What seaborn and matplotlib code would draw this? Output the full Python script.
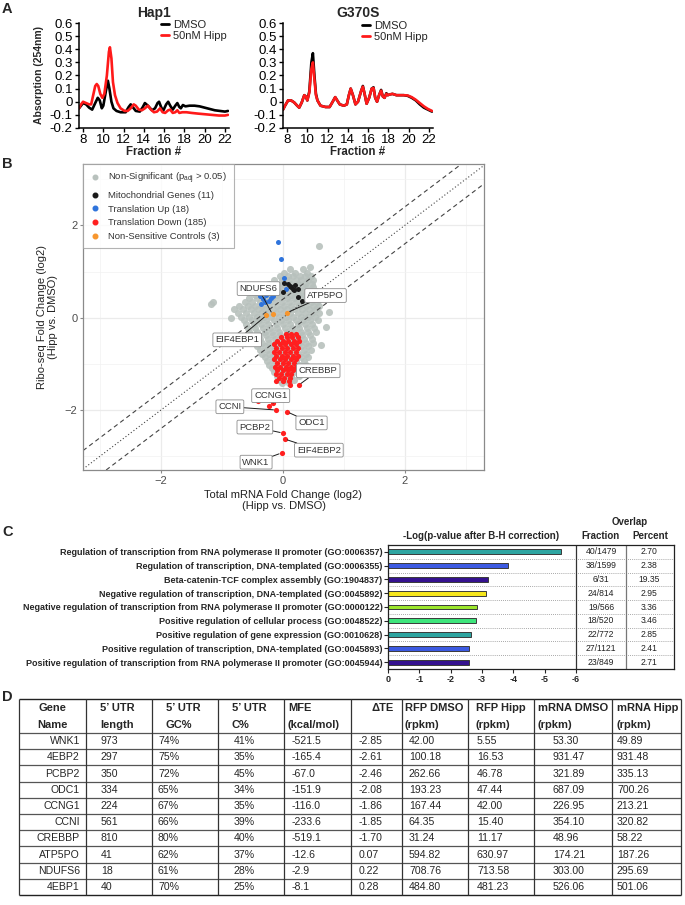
import pandas as pd
import matplotlib
matplotlib.use("Agg")
import matplotlib.pyplot as plt
import seaborn as sns
from matplotlib.lines import Line2D

sns.set_theme(style="white")
plt.rcParams["font.family"] = ["Liberation Sans", "DejaVu Sans"]
plt.rcParams["mathtext.default"] = "regular"

W, H = 685, 905

# ----- A: polysome profiles (fraction, absorbance) -----
hap1_dmso = [(7.6, -0.05), (7.8, -0.03), (8.0, -0.01), (8.3, -0.02), (8.6, -0.045), (8.9, -0.06),
             (9.2, -0.01), (9.45, 0.03), (9.65, 0.01), (9.85, -0.05), (10.0, -0.03), (10.25, 0.08),
             (10.45, 0.16), (10.6, 0.1), (10.8, 0.0), (11.0, -0.05), (11.3, -0.07), (11.7, -0.08),
             (12.2, -0.08), (12.5, -0.04), (12.7, -0.02), (12.9, -0.04), (13.2, -0.07), (13.6, -0.075),
             (13.9, -0.04), (14.1, -0.01), (14.4, -0.03), (14.8, -0.065), (15.1, -0.05), (15.35, -0.01),
             (15.5, 0.0), (15.7, -0.04), (15.9, -0.07), (16.2, -0.02), (16.4, 0.0), (16.6, -0.03),
             (16.85, -0.06), (17.1, -0.03), (17.3, -0.01), (17.5, -0.04), (17.65, -0.05), (17.85, -0.025),
             (18.1, -0.035), (18.5, -0.03), (19.0, -0.03), (19.5, -0.035), (20.0, -0.045), (20.5, -0.055),
             (21.0, -0.065), (21.5, -0.07), (22.0, -0.075), (22.3, -0.07)]
hap1_hipp = [(7.6, -0.05), (7.8, -0.02), (8.0, 0.0), (8.3, -0.01), (8.6, -0.02), (8.8, -0.02),
             (9.0, 0.05), (9.2, 0.12), (9.35, 0.135), (9.5, 0.12), (9.7, 0.06), (9.9, 0.03),
             (10.1, 0.06), (10.35, 0.2), (10.55, 0.38), (10.65, 0.415), (10.8, 0.33), (10.95, 0.15),
             (11.15, 0.05), (11.4, -0.01), (11.7, -0.05), (12.1, -0.07), (12.4, -0.07), (12.7, -0.05),
             (13.0, -0.02), (13.2, -0.03), (13.5, -0.06), (13.8, -0.065), (14.1, -0.05), (14.4, -0.03),
             (14.7, -0.06), (15.0, -0.08), (15.3, -0.075), (15.6, -0.05), (15.85, -0.08), (16.1, -0.085),
             (16.4, -0.065), (16.6, -0.06), (16.85, -0.085), (17.1, -0.08), (17.3, -0.065), (17.5, -0.085),
             (17.8, -0.08), (18.2, -0.08), (18.7, -0.085), (19.3, -0.09), (20.0, -0.095), (20.7, -0.1),
             (21.4, -0.105), (22.0, -0.105), (22.3, -0.1)]
g370s_dmso = [(7.6, -0.06), (7.8, -0.03), (8.1, 0.01), (8.4, 0.01), (8.7, -0.005), (9.0, -0.03),
              (9.2, -0.045), (9.45, -0.005), (9.7, 0.05), (9.85, 0.04), (10.0, 0.01), (10.2, 0.08),
              (10.4, 0.3), (10.55, 0.37), (10.7, 0.2), (10.85, 0.06), (11.0, 0.01), (11.3, -0.03),
              (11.8, -0.04), (12.2, -0.04), (12.5, 0.0), (12.75, 0.035), (12.95, 0.01), (13.2, -0.02),
              (13.6, -0.03), (13.9, -0.02), (14.1, 0.05), (14.28, 0.1), (14.5, 0.05), (14.75, -0.02),
              (15.0, 0.0), (15.3, 0.08), (15.48, 0.12), (15.65, 0.06), (15.85, -0.015), (16.1, 0.03),
              (16.35, 0.1), (16.53, 0.11), (16.7, 0.03), (16.88, 0.0), (17.08, 0.05), (17.28, 0.09),
              (17.45, 0.04), (17.62, 0.03), (17.8, 0.065), (17.93, 0.05), (18.1, 0.055), (18.4, 0.06),
              (18.8, 0.05), (19.5, 0.05), (19.9, 0.045), (20.3, 0.03), (20.7, 0.01), (21.1, -0.02),
              (21.5, -0.045), (21.9, -0.06), (22.3, -0.075)]
g370s_hipp = [(7.6, -0.06), (7.8, -0.03), (8.1, 0.01), (8.4, 0.01), (8.7, -0.005), (9.0, -0.03),
              (9.2, -0.045), (9.45, -0.005), (9.7, 0.05), (9.85, 0.04), (10.0, 0.01), (10.2, 0.07),
              (10.4, 0.25), (10.55, 0.3), (10.7, 0.17), (10.85, 0.05), (11.0, 0.01), (11.3, -0.03),
              (11.8, -0.04), (12.2, -0.04), (12.5, 0.0), (12.75, 0.035), (12.95, 0.01), (13.2, -0.02),
              (13.6, -0.03), (13.9, -0.02), (14.1, 0.05), (14.28, 0.1), (14.5, 0.05), (14.75, -0.02),
              (15.0, 0.0), (15.3, 0.08), (15.48, 0.115), (15.65, 0.06), (15.85, -0.015), (16.1, 0.03),
              (16.35, 0.1), (16.53, 0.105), (16.7, 0.03), (16.88, 0.0), (17.08, 0.05), (17.28, 0.085),
              (17.45, 0.04), (17.62, 0.03), (17.8, 0.06), (17.93, 0.05), (18.1, 0.055), (18.4, 0.06),
              (18.8, 0.05), (19.5, 0.05), (19.9, 0.048), (20.3, 0.035), (20.7, 0.015), (21.1, -0.01),
              (21.5, -0.035), (21.9, -0.055), (22.3, -0.07)]

# ----- B: ribo-seq vs mRNA fold change -----
gray_rows = [
    (1.05, [0.12, 0.33]),
    (0.97, [0.02, 0.2, 0.4]),
    (0.9, [-0.05, 0.08, 0.17, 0.28, 0.37, 0.46]),
    (0.82, [-0.14, -0.02, 0.1, 0.21, 0.3, 0.42, 0.5]),
    (0.74, [-0.22, -0.1, 0.0, 0.14, 0.25, 0.36, 0.47]),
    (0.66, [-0.3, -0.18, -0.06, 0.05, 0.16, 0.27, 0.38, 0.5]),
    (0.58, [-0.38, -0.26, -0.14, -0.03, 0.09, 0.2, 0.32, 0.44, 0.54]),
    (0.5, [-0.46, -0.34, -0.22, -0.1, 0.02, 0.13, 0.25, 0.37, 0.48]),
    (0.42, [-0.55, -0.42, -0.3, -0.18, -0.06, 0.06, 0.18, 0.3, 0.41, 0.52]),
    (0.34, [-0.62, -0.5, -0.38, -0.26, -0.14, -0.02, 0.1, 0.22, 0.34, 0.46, 0.56]),
    (0.26, [-0.72, -0.58, -0.46, -0.34, -0.22, -0.1, 0.02, 0.14, 0.26, 0.38, 0.5, 0.6]),
    (0.18, [-0.8, -0.66, -0.53, -0.41, -0.29, -0.17, -0.05, 0.07, 0.19, 0.31, 0.43, 0.55]),
    (0.1, [-0.74, -0.6, -0.48, -0.36, -0.24, -0.12, 0.0, 0.12, 0.24, 0.36, 0.48, 0.6]),
    (0.02, [-0.68, -0.55, -0.43, -0.31, -0.19, -0.07, 0.05, 0.17, 0.29, 0.41, 0.53]),
    (-0.06, [-0.64, -0.51, -0.39, -0.27, -0.15, -0.03, 0.09, 0.21, 0.33, 0.45, 0.57]),
    (-0.14, [-0.61, -0.48, -0.36, -0.24, -0.12, 0.0, 0.12, 0.24, 0.36, 0.48]),
    (-0.22, [-0.58, -0.45, -0.33, -0.21, -0.09, 0.03, 0.15, 0.27, 0.39, 0.51]),
    (-0.3, [-0.55, -0.42, -0.3, -0.18, -0.06, 0.06, 0.18, 0.3, 0.42, 0.54]),
    (-0.38, [-0.52, -0.4, -0.28, -0.16, -0.04, 0.08, 0.2, 0.32, 0.44]),
    (-0.46, [-0.5, -0.37, -0.25, -0.13, -0.01, 0.11, 0.23, 0.35, 0.47]),
    (-0.54, [-0.46, -0.34, -0.22, -0.1, 0.02, 0.14, 0.26, 0.38, 0.5]),
    (-0.62, [-0.42, -0.3, -0.18, -0.06, 0.06, 0.18, 0.3, 0.42]),
    (-0.7, [-0.38, -0.26, -0.14, -0.02, 0.1, 0.22, 0.34, 0.46]),
    (-0.78, [-0.34, -0.22, -0.1, 0.02, 0.14, 0.26, 0.38]),
    (-0.86, [-0.3, -0.18, -0.06, 0.06, 0.18, 0.3, 0.42]),
    (-0.94, [-0.26, -0.14, -0.02, 0.1, 0.22, 0.34]),
    (-1.02, [-0.22, -0.1, 0.02, 0.14, 0.26, 0.38]),
    (-1.1, [-0.18, -0.06, 0.06, 0.18, 0.3]),
    (-1.18, [-0.14, -0.02, 0.1, 0.22, 0.34]),
    (-1.26, [-0.1, 0.02, 0.14, 0.26]),
    (-1.34, [-0.06, 0.06, 0.18]),
    (-1.42, [-0.02, 0.1]),
]
gray_extra = [(-1.18, 0.3), (-1.14, 0.34), (0.6, 1.56), (0.44, 1.09), (0.75, 0.13), (-0.9, -0.46),
              (0.68, 0.55), (-0.85, 0.0), (0.62, -0.6), (0.7, -0.2)]
red_rows = [
    (-0.35, [0.05, 0.13, 0.21]),
    (-0.42, [-0.03, 0.06, 0.15, 0.24]),
    (-0.5, [-0.1, 0.0, 0.09, 0.18, 0.27]),
    (-0.58, [-0.14, -0.05, 0.04, 0.13, 0.22]),
    (-0.66, [-0.12, -0.02, 0.07, 0.16, 0.25]),
    (-0.74, [-0.15, -0.06, 0.03, 0.12, 0.21]),
    (-0.82, [-0.12, -0.02, 0.07, 0.16, 0.24]),
    (-0.9, [-0.14, -0.05, 0.04, 0.13, 0.21]),
    (-0.98, [-0.1, 0.0, 0.09, 0.18]),
    (-1.06, [-0.13, -0.04, 0.05, 0.14, 0.22]),
    (-1.14, [-0.09, 0.0, 0.09, 0.17]),
    (-1.22, [-0.12, -0.03, 0.06, 0.14]),
    (-1.3, [-0.07, 0.02, 0.11]),
    (-1.38, [-0.12, 0.0, 0.1]),
    (-1.46, [0.11, 0.26]),
]
red_extra = [(-0.41, -1.8), (-0.23, -1.91), (-0.16, -1.85), (-0.11, -2.0), (0.07, -2.04),
             (0.0, -2.5), (0.03, -2.63), (-0.02, -2.93)]
blue_pts = [(-0.08, 1.63), (-0.03, 1.28), (0.02, 0.85), (0.05, 0.63), (-0.38, 0.48), (-0.33, 0.41),
            (-0.3, 0.35), (-0.16, 0.46), (-0.23, 0.36), (-0.28, 0.5), (-0.2, 0.42), (-0.36, 0.3)]
black_pts = [(0.02, 0.76), (0.08, 0.72), (0.14, 0.66), (0.18, 0.6), (0.0, 0.55), (0.25, 0.44),
             (0.2, 0.7), (0.24, 0.63), (0.11, 0.69), (0.31, 0.37), (0.16, 0.62)]
orange_pts = [(-0.27, 0.05), (-0.17, 0.07), (0.07, 0.11)]
gene_labels = [("NDUFS6", (-0.17, 0.07), (-0.4, 0.63)),
               ("ATP5PO", (0.07, 0.11), (0.7, 0.48)),
               ("EIF4EBP1", (-0.27, 0.05), (-0.75, -0.48)),
               ("CREBBP", (0.26, -1.46), (0.58, -1.15)),
               ("CCNG1", (-0.16, -1.85), (-0.2, -1.69)),
               ("CCNI", (-0.11, -2.0), (-0.87, -1.93)),
               ("ODC1", (0.07, -2.04), (0.47, -2.28)),
               ("PCBP2", (0.0, -2.5), (-0.46, -2.37)),
               ("EIF4EBP2", (0.03, -2.63), (0.59, -2.87)),
               ("WNK1", (-0.02, -2.93), (-0.44, -3.13))]

# ----- C: GO enrichment -----
go_terms = ["Regulation of transcription from RNA polymerase II promoter (GO:0006357)",
            "Regulation of transcription, DNA-templated (GO:0006355)",
            "Beta-catenin-TCF complex assembly (GO:1904837)",
            "Negative regulation of transcription, DNA-templated (GO:0045892)",
            "Negative regulation of transcription from RNA polymerase II promoter (GO:0000122)",
            "Positive regulation of cellular process (GO:0048522)",
            "Positive regulation of gene expression (GO:0010628)",
            "Positive regulation of transcription, DNA-templated (GO:0045893)",
            "Positive regulation of transcription from RNA polymerase II promoter (GO:0045944)"]
go_logp = [-5.53, -3.83, -3.2, -3.13, -2.83, -2.81, -2.65, -2.59, -2.59]
go_colors = ["#2ea5a1", "#3c5ae2", "#35128f", "#f5e61c", "#9ce62c", "#3ee67c",
             "#2ea5a1", "#3c5ae2", "#35128f"]
go_fraction = ["40/1479", "38/1599", "6/31", "24/814", "19/566", "18/520", "22/772", "27/1121", "23/849"]
go_percent = ["2.70", "2.38", "19.35", "2.95", "3.36", "3.46", "2.85", "2.41", "2.71"]

# ----- D: table -----
tbl_header = [("Gene", "Name"), ("5’ UTR", "length"), ("5’ UTR", "GC%"), ("5’ UTR", "C%"),
              ("MFE", "(kcal/mol)"), ("ΔTE", ""), ("RFP DMSO", "(rpkm)"), ("RFP Hipp", "(rpkm)"),
              ("mRNA DMSO", "(rpkm)"), ("mRNA Hipp", "(rpkm)")]
genes = ["WNK1", "4EBP2", "PCBP2", "ODC1", "CCNG1", "CCNI", "CREBBP", "ATP5PO", "NDUFS6", "4EBP1"]
utr_len = ["973", "297", "350", "334", "224", "561", "810", "41", "18", "40"]
utr_gc = ["74%", "75%", "72%", "65%", "67%", "66%", "80%", "62%", "61%", "70%"]
utr_c = ["41%", "35%", "45%", "34%", "35%", "39%", "40%", "37%", "28%", "25%"]
mfe = ["-521.5", "-165.4", "-67.0", "-151.9", "-116.0", "-233.6", "-519.1", "-12.6", "-2.9", "-8.1"]
delta_te = ["-2.85", "-2.61", "-2.46", "-2.08", "-1.86", "-1.85", "-1.70", "0.07", "0.22", "0.28"]
rfp_dmso = ["42.00", "100.18", "262.66", "193.23", "167.44", "64.35", "31.24", "594.82", "708.76", "484.80"]
rfp_hipp = ["5.55", "16.53", "46.78", "47.44", "42.00", "15.40", "11.17", "630.97", "713.58", "481.23"]
mrna_dmso = ["53.30", "931.47", "321.89", "687.09", "226.95", "354.10", "48.96", "174.21", "303.00", "526.06"]
mrna_hipp = ["49.89", "931.48", "335.13", "700.26", "213.21", "320.82", "58.22", "187.26", "295.69", "501.06"]


def box(l, t, r, b):
    return [l / W, 1 - b / H, (r - l) / W, (b - t) / H]


fig = plt.figure(figsize=(W / 100, H / 100), dpi=100)
fig.patch.set_facecolor("white")

canvas = fig.add_axes([0, 0, 1, 1])
canvas.set_xlim(0, W)
canvas.set_ylim(H, 0)
canvas.axis("off")

for letter, y in [("A", 9), ("B", 164), ("C", 532), ("D", 697)]:
    canvas.text(2, y, letter, fontsize=10.5, fontweight="bold", va="center", ha="left")


# ----- A -----
def profile(ax, title, dmso, hipp, legend_xy, show_ylabel):
    df = pd.concat([pd.DataFrame(dmso, columns=["fraction", "abs"]).assign(cond="DMSO"),
                    pd.DataFrame(hipp, columns=["fraction", "abs"]).assign(cond="50nM Hipp")])
    sns.lineplot(data=df, x="fraction", y="abs", hue="cond", estimator=None, sort=False,
                 palette={"DMSO": "black", "50nM Hipp": "#ff1a1a"}, lw=1.9, ax=ax, legend=False)
    ax.set_xlim(7.6, 22.4)
    ax.set_ylim(-0.2, 0.6)
    ax.set_xticks(range(8, 23, 2))
    yt = [-0.2, -0.1, 0, 0.1, 0.2, 0.3, 0.4, 0.5, 0.6]
    ax.set_yticks(yt)
    ax.set_yticklabels(["-0.2", "-0.1", "0", "0.1", "0.2", "0.3", "0.4", "0.5", "0.6"])
    for s in ["top", "right"]:
        ax.spines[s].set_visible(False)
    for s in ["left", "bottom"]:
        ax.spines[s].set_color("black")
        ax.spines[s].set_linewidth(1.1)
    ax.tick_params(axis="both", direction="out", length=3, width=1, labelsize=9.5, pad=1.5,
                   colors="black", left=True, bottom=True)
    ax.set_title(title, fontsize=10, fontweight="bold", pad=4)
    ax.set_xlabel("Fraction #", fontsize=8.3, fontweight="bold", labelpad=0)
    if show_ylabel:
        ax.set_ylabel("Absorption (254nm)", fontsize=7.5, fontweight="bold", labelpad=4)
    else:
        ax.set_ylabel("")
    handles = [Line2D([], [], color="black", lw=2), Line2D([], [], color="#ff1a1a", lw=2)]
    fig.legend(handles, ["DMSO", "50nM Hipp"], loc="upper left",
               bbox_to_anchor=(legend_xy[0] / W, 1 - legend_xy[1] / H), frameon=False,
               fontsize=8, handlelength=0.7, handletextpad=0.35, labelspacing=0.1,
               borderpad=0, borderaxespad=0)


axA1 = fig.add_axes(box(79, 23, 229, 128))
profile(axA1, "Hap1", hap1_dmso, hap1_hipp, (161, 20), True)
axA2 = fig.add_axes(box(283, 23, 433, 128))
profile(axA2, "G370S", g370s_dmso, g370s_hipp, (362, 21), False)

# ----- B -----
axB = fig.add_axes(box(83, 164, 484, 470))
axB.set_facecolor("white")
gray_df = pd.DataFrame([(x, y) for y, xs in gray_rows for x in xs] + gray_extra, columns=["mrna", "ribo"])
red_df = pd.DataFrame([(x, y) for y, xs in red_rows for x in xs] + red_extra, columns=["mrna", "ribo"])
blue_df = pd.DataFrame(blue_pts, columns=["mrna", "ribo"])
black_df = pd.DataFrame(black_pts, columns=["mrna", "ribo"])
orange_df = pd.DataFrame(orange_pts, columns=["mrna", "ribo"])

c_gray, c_black, c_blue, c_red, c_orange = "#b8c1bd", "#1a1a1a", "#2f74dc", "#ff1f1f", "#f7962e"
sns.scatterplot(data=gray_df, x="mrna", y="ribo", color=c_gray, alpha=0.9, s=26, linewidth=0, ax=axB, zorder=2)
for off, ls in [(0.4, (0, (4, 3))), (0.0, (0, (1, 2))), (-0.4, (0, (4, 3)))]:
    axB.axline((0, off), slope=1, color="#444444", lw=0.8, ls=ls, zorder=2.5)
sns.scatterplot(data=blue_df, x="mrna", y="ribo", color=c_blue, s=13, linewidth=0, ax=axB, zorder=3)
sns.scatterplot(data=black_df, x="mrna", y="ribo", color=c_black, s=13, linewidth=0, ax=axB, zorder=3)
sns.scatterplot(data=red_df, x="mrna", y="ribo", color=c_red, s=14, linewidth=0, ax=axB, zorder=3)
sns.scatterplot(data=orange_df, x="mrna", y="ribo", color=c_orange, s=14, linewidth=0, ax=axB, zorder=3.2)

for name, pt, txt in gene_labels:
    axB.annotate(name, xy=pt, xytext=txt, ha="center", va="center", fontsize=6.8, color="#333333",
                 bbox=dict(boxstyle="round,pad=0.25,rounding_size=0.15", fc="white", ec="#8c8c8c", lw=0.6),
                 arrowprops=dict(arrowstyle="-", color="#1a1a1a", lw=0.7, shrinkA=0, shrinkB=2), zorder=5)

axB.set_xlim(-3.28, 3.3)
axB.set_ylim(-3.3, 3.33)
axB.set_xticks([-2, 0, 2])
axB.set_yticks([-2, 0, 2])
axB.set_xticks([-3, -1, 1, 3], minor=True)
axB.set_yticks([-3, -1, 1, 3], minor=True)
axB.grid(which="major", color="#ebebeb", lw=0.9)
axB.grid(which="minor", color="#f2f2f2", lw=0.5)
axB.set_axisbelow(True)
for s in axB.spines.values():
    s.set_color("#8a8a8a")
    s.set_linewidth(0.9)
axB.tick_params(which="major", direction="out", length=2.5, width=0.8, color="#8a8a8a",
                labelsize=8, labelcolor="#4d4d4d", pad=1.5, left=True, bottom=True)
axB.tick_params(which="minor", length=0)
axB.set_xlabel("Total mRNA Fold Change (log2)\n(Hipp vs. DMSO)", fontsize=8, color="#222222",
               labelpad=3, linespacing=1.1)
axB.set_ylabel("Ribo-seq Fold Change (log2)\n(Hipp vs. DMSO)", fontsize=8, color="#222222",
               labelpad=5, linespacing=1.1)

leg_handles = [Line2D([], [], marker="o", ls="", color=c, markersize=3.3)
               for c in [c_gray, c_black, c_blue, c_red, c_orange]]
leg_labels = ["Non-Significant (p$_{adj}$ > 0.05)", "Mitochondrial Genes (11)", "Translation Up (18)",
              "Translation Down (185)", "Non-Sensitive Controls (3)"]
leg = axB.legend(leg_handles, leg_labels, loc="upper left", borderaxespad=0, fontsize=6.8,
                 frameon=True, fancybox=False, edgecolor="#a0a0a0", handletextpad=0.8,
                 labelspacing=0.5, borderpad=0.75, handlelength=1.1)
leg.get_frame().set_linewidth(0.8)
for t in leg.get_texts():
    t.set_color("#333333")

# ----- C -----
axC = fig.add_axes(box(388, 545, 674, 669))
sns.barplot(x=go_logp, y=go_terms, hue=go_terms, palette=go_colors, legend=False, orient="h",
            width=0.36, saturation=1, edgecolor="#3a3a3a", linewidth=0.7, ax=axC)
axC.set_xlim(0, -9.13)
axC.set_ylim(8.5, -0.5)
axC.set_xticks([0, -1, -2, -3, -4, -5, -6])
axC.set_xticklabels(["0", "-1", "-2", "-3", "-4", "-5", "-6"])
axC.set_xlabel("")
axC.set_ylabel("")
for s in axC.spines.values():
    s.set_color("#222222")
    s.set_linewidth(0.9)
axC.tick_params(axis="x", direction="out", length=3, width=0.8, labelsize=6.5, pad=1.5, bottom=True)
axC.tick_params(axis="y", direction="out", length=3, width=0.8, labelsize=6.5, pad=1, left=True)
for t in axC.get_xticklabels() + axC.get_yticklabels():
    t.set_fontweight("bold")
for i in range(8):
    axC.axhline(i + 0.5, color="#8c8c8c", lw=0.6, ls=(0, (1, 1.5)), zorder=0.5)
axC.axvline(-6, color="#333333", lw=0.9)
axC.axvline(-7.6, color="#777777", lw=0.9)
for i in range(len(go_terms)):
    axC.text(-6.8, i, go_fraction[i], ha="center", va="center", fontsize=6.2, color="#222222")
    axC.text(-8.33, i, go_percent[i], ha="center", va="center", fontsize=6.2, color="#222222")

canvas.text(481, 536, "-Log(p-value after B-H correction)", fontsize=7, fontweight="bold", ha="center", va="center")
canvas.text(630, 522, "Overlap", fontsize=7, fontweight="bold", ha="center", va="center")
canvas.text(601, 536, "Fraction", fontsize=7, fontweight="bold", ha="center", va="center")
canvas.text(650, 536, "Percent", fontsize=7, fontweight="bold", ha="center", va="center")

# ----- D -----
col_edges = [19, 86, 152, 218, 284, 351, 402, 468, 534, 612, 681]
tbl_top, head_bot, row_h = 699, 733, 16.2
n_rows = len(genes)
tbl_bot = head_bot + row_h * n_rows
canvas.hlines([tbl_top, tbl_bot], col_edges[0], col_edges[-1], color="#222222", lw=1.0)
canvas.hlines([head_bot + row_h * k for k in range(n_rows)], col_edges[0], col_edges[-1], color="#555555", lw=0.9)
canvas.vlines(col_edges, tbl_top, tbl_bot, color="#333333", lw=0.9)

head_x = [52, 100, 166, 232, 288, 372, 405, 476, 538, 617]
for j, (l1, l2) in enumerate(tbl_header):
    ha = "center" if j == 0 else "left"
    canvas.text(head_x[j], 708, l1, fontsize=8, fontweight="bold", ha=ha, va="center")
    if l2:
        canvas.text(head_x[j], 725, l2, fontsize=8, fontweight="bold", ha=ha, va="center")

columns = [utr_len, utr_gc, utr_c, mfe, delta_te, rfp_dmso, rfp_hipp, mrna_dmso, mrna_hipp]
data_x = [101, 158, 234, 292, 359, 409, 477, 553, 617]
for i in range(n_rows):
    yc = head_bot + row_h * (i + 0.5)
    canvas.text(80, yc, genes[i], fontsize=7.6, ha="right", va="center")
    for j, col in enumerate(columns):
        canvas.text(data_x[j], yc, col[i], fontsize=7.6, ha="left", va="center")

fig.savefig("out.png", dpi=100, facecolor="white")
